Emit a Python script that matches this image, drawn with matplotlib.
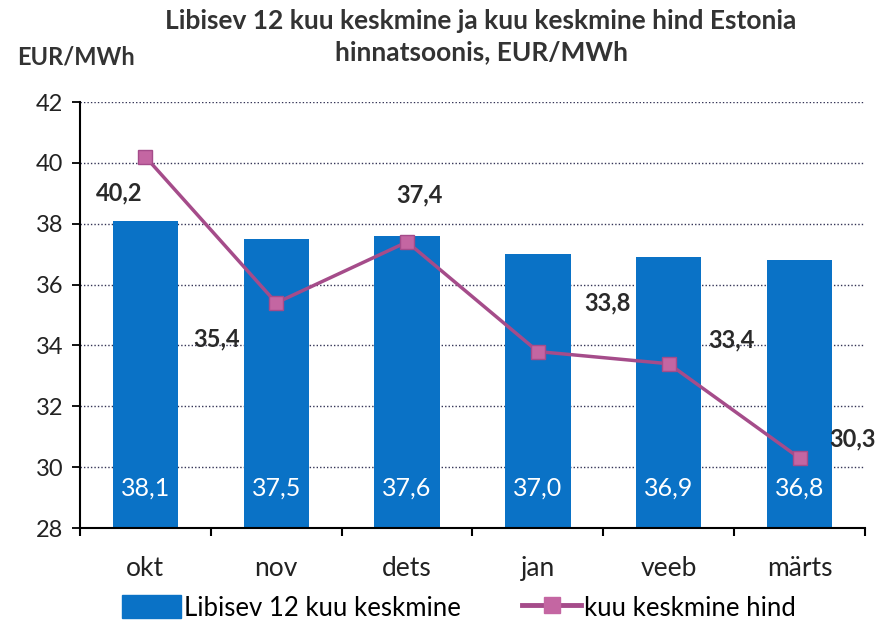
import matplotlib
matplotlib.use("Agg")
import matplotlib.pyplot as plt
import numpy as np
from matplotlib.patches import Patch
from matplotlib.lines import Line2D

plt.rcParams['font.family'] = ['Lato', 'DejaVu Sans']

categories = ["okt", "nov", "dets", "jan", "veeb", "märts"]
rolling_avg = [38.1, 37.5, 37.6, 37.0, 36.9, 36.8]
monthly_avg = [40.2, 35.4, 37.4, 33.8, 33.4, 30.3]
yticks = [28, 30, 32, 34, 36, 38, 40, 42]

bar_label_name = "Libisev 12 kuu keskmine"
line_label_name = "kuu keskmine hind"
title = "Libisev 12 kuu keskmine ja kuu keskmine hind Estonia\nhinnatsoonis, EUR/MWh"
unit = "EUR/MWh"

# label offsets (points) for line labels — styling only
line_label_offsets = [(-19, -26), (-43, -26), (9, 34), (50, 35), (45, 17), (38, 14)]

def fmt(v):
    return f"{v:.1f}".replace(".", ",")

fig = plt.figure(figsize=(8.91, 6.22), dpi=100)
ax = fig.add_axes([0.0898, 0.151, 0.881, 0.685])

x = np.arange(len(categories))
bar_color = "#0A72C6"
line_color = "#A54C8A"
marker_color = "#C466A2"

ax.set_ylim(28, 42)
ax.set_xlim(-0.5, len(categories) - 0.5)
ax.set_yticks(yticks)
ax.set_yticklabels([str(t) for t in yticks], fontsize=17, color="#222222")

for t in yticks[1:]:
    ax.axhline(t, color="#333355", linestyle=(0, (1, 1.5)), linewidth=1.0, zorder=1)

bars = ax.bar(x, [v - 28 for v in rolling_avg], bottom=28, width=0.5, color=bar_color, zorder=2)
for xi, v in zip(x, rolling_avg):
    ax.text(xi, 29.3, fmt(v), ha="center", va="center", color="white", fontsize=18, zorder=5)

ax.plot(x, monthly_avg, color=line_color, linewidth=2.5, marker="s", markersize=10,
        markerfacecolor=marker_color, markeredgecolor=line_color, zorder=4)
for xi, v, off in zip(x, monthly_avg, line_label_offsets):
    ax.annotate(fmt(v), (xi, v), xytext=off, textcoords="offset points", ha="center",
                va="center", fontsize=17, fontweight="bold", color="#2a2a2a", zorder=6)

ax.set_xticks(x)
ax.set_xticklabels(categories, fontsize=19, color="#222222")
ax.tick_params(axis="x", length=0, pad=20)
ax.set_xticks(np.arange(-0.5, len(categories)), minor=True)
ax.tick_params(axis="x", which="minor", length=6, width=1.5, direction="out")
ax.tick_params(axis="y", length=6, width=1.3, direction="out", pad=6)

for s in ["top", "right"]:
    ax.spines[s].set_visible(False)
ax.spines["left"].set_linewidth(1.5)
ax.spines["bottom"].set_linewidth(1.5)

fig.text(0.54, 0.985, title, ha="center", va="top", fontsize=19, fontweight="bold",
         color="#333333", linespacing=1.35)
fig.text(0.085, 0.908, unit, ha="center", va="center", fontsize=17, fontweight="bold", color="#333333")

handles = [Patch(facecolor=bar_color, edgecolor=bar_color),
           Line2D([0], [0], color=line_color, linewidth=3.5, marker="s", markersize=12,
                  markerfacecolor=marker_color, markeredgecolor=marker_color)]
fig.legend(handles, [bar_label_name, line_label_name], loc="lower center",
           bbox_to_anchor=(0.515, -0.035), ncol=2, frameon=False, fontsize=18.5,
           handlelength=2.3, handleheight=1.0, handletextpad=0.1, columnspacing=2.4)

fig.savefig("out.png", dpi=100)
